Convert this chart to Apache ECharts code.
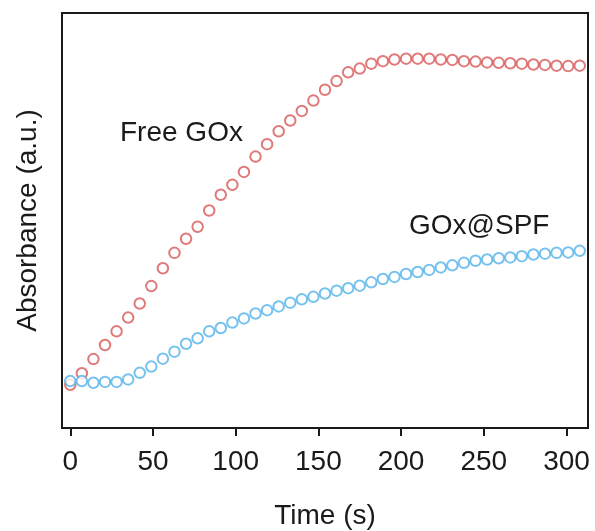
<!DOCTYPE html>
<html>
<head>
<meta charset="utf-8">
<title>Absorbance vs time</title>
<script src="https://cdn.jsdelivr.net/npm/echarts@6/dist/echarts.min.js"></script>
<style>
  html, body { margin: 0; padding: 0; background: #fff; }
  #chart { width: 595px; height: 531px; }
</style>
</head>
<body>
<div id="chart"></div>
<script>
// Sampling times (s)
const times = [0, 7, 14, 21, 28, 35, 42, 49, 56, 63, 70, 77, 84, 91, 98, 105, 112, 119, 126, 133,
  140, 147, 154, 161, 168, 175, 182, 189, 196, 203, 210, 217, 224, 231, 238, 245, 252, 259, 266,
  273, 280, 287, 294, 301, 308];

// Absorbance (a.u.) of free glucose oxidase
const freeGOx = [0.104, 0.132, 0.166, 0.200, 0.233, 0.266, 0.300, 0.342, 0.385, 0.422, 0.456,
  0.485, 0.524, 0.562, 0.586, 0.617, 0.654, 0.684, 0.715, 0.741, 0.764, 0.789, 0.815, 0.836,
  0.857, 0.866, 0.878, 0.884, 0.888, 0.890, 0.890, 0.890, 0.888, 0.887, 0.884, 0.883, 0.881,
  0.880, 0.879, 0.878, 0.876, 0.875, 0.873, 0.872, 0.873];

// Absorbance (a.u.) of GOx immobilised in SPF
const spfGOx = [0.113, 0.113, 0.109, 0.111, 0.111, 0.117, 0.133, 0.148, 0.167, 0.184, 0.203,
  0.216, 0.233, 0.241, 0.254, 0.264, 0.276, 0.284, 0.293, 0.302, 0.310, 0.316, 0.324, 0.331,
  0.337, 0.343, 0.351, 0.359, 0.364, 0.371, 0.376, 0.381, 0.387, 0.392, 0.398, 0.403, 0.406,
  0.409, 0.411, 0.414, 0.418, 0.420, 0.422, 0.423, 0.427];

const xTicks = [0, 50, 100, 150, 200, 250, 300];

const seriesNames = ['Free GOx', 'GOx@SPF'];
const seriesColors = ['#d85858', '#52b3ea'];

const FONT = 'Liberation Sans, Arial, sans-serif';
const INK = '#1a1a1a';

function pairs(ys) {
  return times.map((t, i) => [t, ys[i]]);
}

const chart = echarts.init(document.getElementById('chart'), null, { renderer: 'canvas' });

chart.setOption({
  backgroundColor: '#ffffff',
  animation: false,
  grid: {
    left: 62, right: 7, top: 13, bottom: 103,
    containLabel: false,
    outerBoundsMode: 'none',
    show: true, borderColor: INK, borderWidth: 2, backgroundColor: 'transparent'
  },
  xAxis: {
    type: 'value',
    min: -5, max: 313,
    name: 'Time (s)',
    nameLocation: 'middle',
    nameGap: 74,
    nameTextStyle: { fontFamily: FONT, fontSize: 28, color: INK },
    axisLine: { show: true, onZero: false, lineStyle: { color: INK, width: 2 } },
    axisTick: {
      show: true, inside: false, length: 8,
      customValues: xTicks,
      lineStyle: { color: INK, width: 2 }
    },
    axisLabel: {
      show: true, margin: 20,
      customValues: xTicks,
      fontFamily: FONT, fontSize: 28, color: INK
    },
    splitLine: { show: false }
  },
  yAxis: {
    type: 'value',
    min: 0, max: 1,
    name: 'Absorbance (a.u.)',
    nameLocation: 'middle',
    nameGap: 20,
    nameTextStyle: { fontFamily: FONT, fontSize: 28, color: INK },
    axisLine: { show: true, onZero: false, lineStyle: { color: INK, width: 2 } },
    axisTick: { show: false },
    axisLabel: { show: false },
    splitLine: { show: false }
  },
  series: [
    {
      name: seriesNames[0],
      type: 'scatter',
      data: pairs(freeGOx),
      symbol: 'emptyCircle',
      symbolSize: 10.5,
      itemStyle: { color: seriesColors[0], borderColor: seriesColors[0], borderWidth: 2.6 }
    },
    {
      name: seriesNames[1],
      type: 'scatter',
      data: pairs(spfGOx),
      symbol: 'emptyCircle',
      symbolSize: 10.5,
      itemStyle: { color: seriesColors[1], borderColor: seriesColors[1], borderWidth: 2.6 }
    }
  ],
  graphic: [
    {
      type: 'text', x: 120, y: 133,
      style: { text: seriesNames[0], fontFamily: FONT, fontSize: 28, fill: INK, verticalAlign: 'middle', align: 'left' }
    },
    {
      type: 'text', x: 409, y: 226,
      style: { text: seriesNames[1], fontFamily: FONT, fontSize: 28, fill: INK, verticalAlign: 'middle', align: 'left' }
    }
  ]
});
</script>
</body>
</html>
